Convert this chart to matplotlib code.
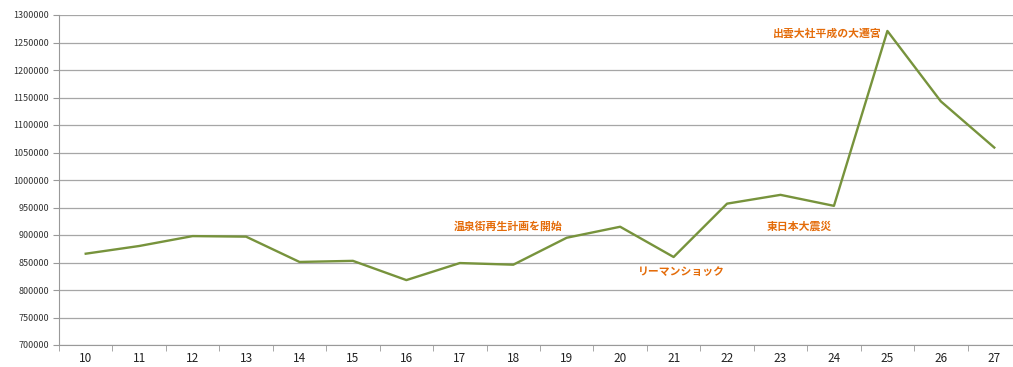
import matplotlib
matplotlib.use('Agg')
import matplotlib.pyplot as plt
from matplotlib.ticker import FixedLocator

plt.rcParams['font.family'] = ['Noto Sans CJK JP', 'DejaVu Sans']

# years (Heisei) and visitor numbers
years = ['10', '11', '12', '13', '14', '15', '16', '17', '18',
         '19', '20', '21', '22', '23', '24', '25', '26', '27']
visitors = [866000, 880000, 898000, 897000, 851000, 853000, 818000, 849000, 846000,
            895000, 915000, 860000, 957000, 973000, 953000, 1271000, 1143000, 1059000]

# event notes: (text, x index, y value)
notes = [('温泉街再生計画を開始', 7.9, 915000),
         ('リーマンショック', 11.15, 833000),
         ('東日本大震災', 13.36, 915000),
         ('出雲大社平成の大遷宮', 13.88, 1267000)]

fig = plt.figure(figsize=(10.13, 3.67), dpi=100)
# the plot area runs a little past the right edge, as in the original screenshot
ax = fig.add_axes([59 / 1013, 22 / 367, 962 / 1013, 330 / 367])

x = list(range(len(years)))
ax.plot(x, visitors, color='#77933C', linewidth=1.7)

ax.set_xlim(-0.5, len(years) - 0.5)
ax.set_ylim(700000, 1300000)
ax.set_yticks(range(700000, 1300001, 50000))
ax.set_yticklabels([str(v) for v in range(700000, 1300001, 50000)], fontsize=6.5, color='#333333')
ax.set_xticks(x)
ax.set_xticklabels(years, fontsize=8.5, color='#222222')
ax.xaxis.set_minor_locator(FixedLocator([i - 0.5 for i in range(len(years) + 1)]))
ax.tick_params(axis='x', which='major', length=0, pad=5)
ax.tick_params(axis='x', which='minor', length=4, color='#999999')
ax.tick_params(axis='y', length=4, color='#999999', pad=3)

ax.grid(axis='y', color='#A6A6A6', linewidth=0.9)
ax.set_axisbelow(True)
for s in ['top', 'right']:
    ax.spines[s].set_visible(False)
for s in ['left', 'bottom']:
    ax.spines[s].set_color('#999999')

for txt, xi, yv in notes:
    ax.text(xi, yv, txt, color='#E46C0A', fontsize=7.8, fontweight='bold',
            ha='center', va='center')

fig.savefig('out.png', dpi=100)
